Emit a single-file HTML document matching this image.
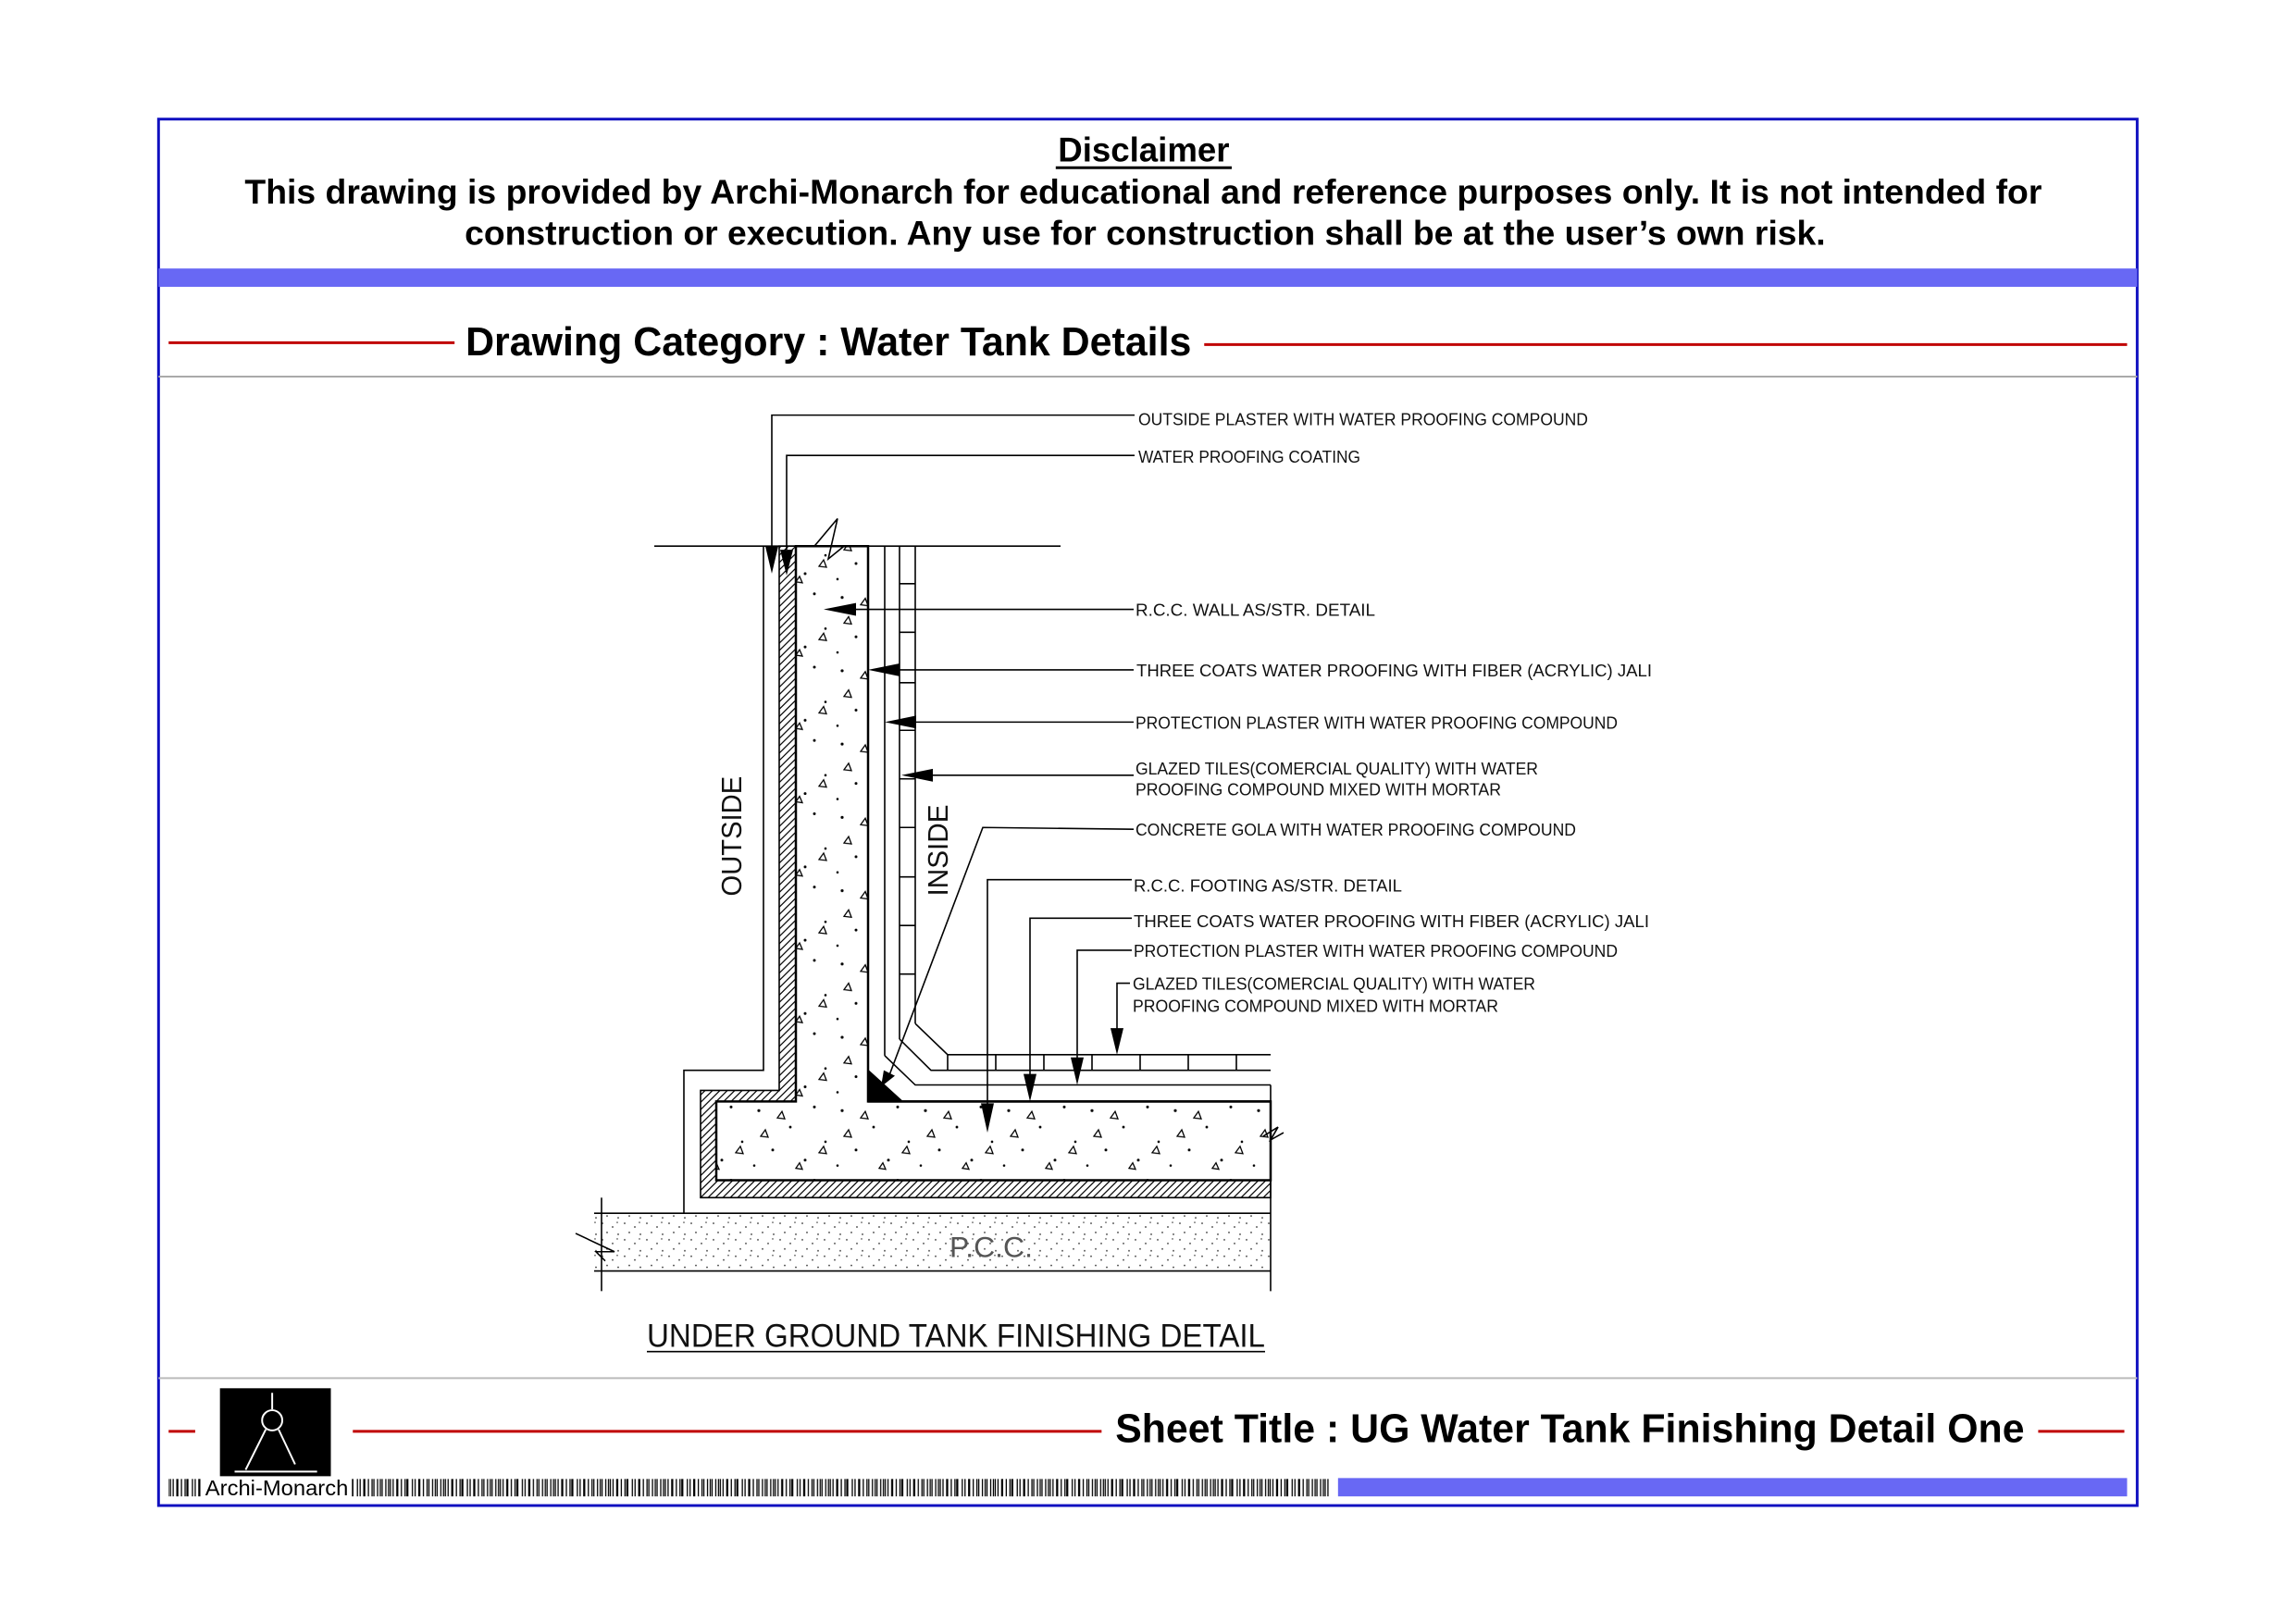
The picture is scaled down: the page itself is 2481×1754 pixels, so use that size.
<!DOCTYPE html>
<html><head><meta charset="utf-8"><style>html,body{margin:0;padding:0;background:#fff}svg{display:block}</style></head>
<body>
<svg width="2481" height="1754" viewBox="0 0 2481 1754" xmlns="http://www.w3.org/2000/svg">
<defs>
<pattern id="conc" width="90" height="80" patternUnits="userSpaceOnUse">
<circle cx="10" cy="12" r="1.6" fill="#000"/><circle cx="44" cy="30" r="1.4" fill="#000"/><circle cx="70" cy="8" r="1.5" fill="#000"/><circle cx="25" cy="55" r="1.5" fill="#000"/><circle cx="60" cy="66" r="1.5" fill="#000"/><circle cx="82" cy="46" r="1.3" fill="#000"/><circle cx="5" cy="72" r="1.3" fill="#000"/>
<path d="M30 20 l5 -7 l3 8 z M75 58 l5 -7 l3 8 z M12 40 l5 -7 l3 8 z M50 75 l4 -6 l3 7 z" fill="none" stroke="#000" stroke-width="1.3"/>
</pattern>
<pattern id="pcc" width="24" height="18" patternUnits="userSpaceOnUse">
<circle cx="3" cy="3" r="0.9" fill="#333"/><circle cx="14" cy="7" r="0.9" fill="#333"/><circle cx="8" cy="13" r="0.9" fill="#333"/><circle cx="20" cy="15" r="0.9" fill="#333"/><circle cx="19" cy="2" r="0.8" fill="#333"/>
</pattern>
<pattern id="hatch" width="8" height="8" patternUnits="userSpaceOnUse">
<path d="M0 8 L8 0 M-2 2 L2 -2 M6 10 L10 6" stroke="#000" stroke-width="1.2"/>
</pattern>
<pattern id="bars" width="60" height="20" patternUnits="userSpaceOnUse">
<path d="M1 0v20M4 0v20M6 0v20M9 0v20M13 0v20M14 0v20M18 0v20M22 0v20M24 0v20M25 0v20M30 0v20M33 0v20M37 0v20M38 0v20M42 0v20M46 0v20M48 0v20M52 0v20M55 0v20M57 0v20" stroke="#000" stroke-width="1.3"/>
</pattern>
</defs>
<g transform="scale(0.9903)">
<rect x="173" y="130" width="2159" height="1513" fill="none" stroke="#1010c0" stroke-width="3"/>
<rect x="173" y="293" width="2159" height="20" fill="#6868f4"/>
<line x1="173" y1="411" x2="2332" y2="411" stroke="#aaa" stroke-width="2"/>
<line x1="173" y1="1504" x2="2332" y2="1504" stroke="#bbb" stroke-width="2"/>

<g font-family="Liberation Sans, sans-serif" font-weight="bold" fill="#000">
<text x="1248" y="176" font-size="37" text-anchor="middle">Disclaimer</text>
<line x1="1152" y1="183" x2="1344" y2="183" stroke="#000" stroke-width="3"/>
<text x="267" y="222" font-size="37" textLength="1961" lengthAdjust="spacingAndGlyphs">This drawing is provided by Archi-Monarch for educational and reference purposes only. It is not intended for</text>
<text x="507" y="267" font-size="37" textLength="1485" lengthAdjust="spacingAndGlyphs">construction or execution. Any use for construction shall be at the user’s own risk.</text>
<text x="508" y="388" font-size="44" textLength="792" lengthAdjust="spacingAndGlyphs">Drawing Category : Water Tank Details</text>
<text x="1217" y="1574" font-size="44" textLength="992" lengthAdjust="spacingAndGlyphs">Sheet Title : UG Water Tank Finishing Detail One</text>
</g>
<line x1="184" y1="374" x2="496" y2="374" stroke="#c00000" stroke-width="3"/>
<line x1="1314" y1="376" x2="2321" y2="376" stroke="#c00000" stroke-width="3"/>
<line x1="184" y1="1562" x2="213" y2="1562" stroke="#c00000" stroke-width="3"/>
<line x1="385" y1="1562" x2="1202" y2="1562" stroke="#c00000" stroke-width="3"/>
<line x1="2224" y1="1562" x2="2318" y2="1562" stroke="#c00000" stroke-width="3"/>

<rect x="240" y="1515" width="121" height="96" fill="#000"/>
<g stroke="#fff" stroke-width="2" fill="none">
<line x1="297" y1="1520" x2="297" y2="1538"/><circle cx="297" cy="1550" r="11"/>
<line x1="290" y1="1560" x2="268" y2="1604"/><line x1="304" y1="1560" x2="322" y2="1598"/>
<line x1="256" y1="1606" x2="346" y2="1606"/>
</g>
<rect x="184" y="1614" width="36" height="19" fill="url(#bars)"/>
<text x="224" y="1632" font-family="Liberation Sans, sans-serif" font-size="23" textLength="156" lengthAdjust="spacingAndGlyphs">Archi-Monarch</text>
<rect x="384" y="1614" width="1068" height="19" fill="url(#bars)"/>
<rect x="1460" y="1613" width="861" height="20" fill="#6868f4"/>

<g transform="scale(1.00979,1)">
<g stroke="#000" fill="none" stroke-width="1.6">
<rect x="642" y="1324" width="731" height="63" fill="url(#pcc)" stroke="none"/>
<line x1="642" y1="1324" x2="1373" y2="1324"/>
<line x1="642" y1="1387" x2="1373" y2="1387"/>
<line x1="650" y1="1307" x2="650" y2="1409"/>
<line x1="1373" y1="1184" x2="1373" y2="1409"/>
<path d="M622 1346 L664 1366 L644 1366 L654 1376"/>
<path d="M842 596 L860 596 L860 1202 L774 1202 L774 1288 L1373 1288 L1373 1307 L757 1307 L757 1190 L842 1190 Z" fill="url(#hatch)"/>
<path d="M860 596 L938 596 L938 1202 L1373 1202 L1373 1288 L774 1288 L774 1202 L860 1202 Z" fill="url(#conc)" stroke-width="2.5"/>
<path d="M825 596 L825 1168 L739 1168 L739 1324"/>
<line x1="707" y1="596" x2="1146" y2="596"/>
<path d="M880 596 L905 566 L895 610 L912 596"/>
<line x1="956" y1="596" x2="956" y2="1152"/>
<path d="M956 1152 L989 1184 L1373 1184"/>
<line x1="972" y1="596" x2="972" y2="1134"/>
<path d="M972 1134 L1006 1168 L1373 1168"/>
<line x1="989" y1="596" x2="989" y2="1117"/>
<path d="M989 1117 L1024 1151 L1373 1151"/>
<line x1="1024" y1="1151" x2="1024" y2="1168"/>
<line x1="938" y1="1202" x2="1373" y2="1202" stroke-width="2.5"/>
<path d="M972 637h17M972 690h17M972 745h17M972 797h17M972 850h17M972 903h17M972 957h17M972 1010h17M972 1063h17"/>
<path d="M1076 1151v17M1128 1151v17M1180 1151v17M1232 1151v17M1284 1151v17M1336 1151v17"/>
<path d="M1365 1240 l16 -10 l-8 14 l14 -8"/>
<path d="M938 1168 L938 1202 L975 1202 Z" fill="#000"/>

<path d="M1226 453 L834 453 L834 600"/>
<path d="M1226 497 L850 497 L850 600"/>
<path d="M1225 665 L920 665"/>
<path d="M1225 731 L968 731"/>
<path d="M1225 788 L986 788"/>
<path d="M1225 846 L1004 846"/>
<path d="M1225 905 L1062 903 L960 1176"/>
<path d="M1223 960 L1067 960 L1067 1210"/>
<path d="M1223 1002 L1113 1002 L1113 1178"/>
<path d="M1223 1037 L1164 1037 L1164 1160"/>
<path d="M1221 1073 L1207 1073 L1207 1128"/>
</g>
<g fill="#000">
<path d="M827 596 L841 596 L834 626 Z"/>
<path d="M843 600 L857 600 L850 628 Z"/>
<path d="M890 665 L925 658 L925 672 Z"/>
<path d="M938 731 L972 724 L972 738 Z"/>
<path d="M956 788 L990 781 L990 795 Z"/>
<path d="M974 846 L1008 839 L1008 853 Z"/>
<path d="M952 1186 L955 1168 L967 1174 Z"/>
<path d="M1060 1204 L1074 1204 L1067 1236 Z"/>
<path d="M1106 1172 L1120 1172 L1113 1202 Z"/>
<path d="M1157 1154 L1171 1154 L1164 1184 Z"/>
<path d="M1200 1122 L1214 1122 L1207 1151 Z"/>
</g>

<g font-family="Liberation Sans, sans-serif" font-size="19" fill="#111">
<text x="1230" y="464" textLength="486" lengthAdjust="spacingAndGlyphs">OUTSIDE  PLASTER  WITH  WATER  PROOFING  COMPOUND</text>
<text x="1230" y="505" textLength="240" lengthAdjust="spacingAndGlyphs">WATER  PROOFING  COATING</text>
<text x="1227" y="672" textLength="259" lengthAdjust="spacingAndGlyphs">R.C.C.  WALL  AS/STR.  DETAIL</text>
<text x="1228" y="738" textLength="557" lengthAdjust="spacingAndGlyphs">THREE  COATS  WATER  PROOFING   WITH  FIBER  (ACRYLIC)  JALI</text>
<text x="1227" y="795" textLength="521" lengthAdjust="spacingAndGlyphs">PROTECTION  PLASTER  WITH  WATER  PROOFING  COMPOUND</text>
<text x="1227" y="845" textLength="435" lengthAdjust="spacingAndGlyphs">GLAZED  TILES(COMERCIAL  QUALITY)  WITH  WATER</text>
<text x="1227" y="868" textLength="395" lengthAdjust="spacingAndGlyphs">PROOFING  COMPOUND  MIXED  WITH  MORTAR</text>
<text x="1227" y="912" textLength="476" lengthAdjust="spacingAndGlyphs">CONCRETE  GOLA  WITH  WATER  PROOFING  COMPOUND</text>
<text x="1225" y="973" textLength="290" lengthAdjust="spacingAndGlyphs">R.C.C.  FOOTING  AS/STR.  DETAIL</text>
<text x="1225" y="1012" textLength="557" lengthAdjust="spacingAndGlyphs">THREE  COATS  WATER  PROOFING   WITH  FIBER  (ACRYLIC)  JALI</text>
<text x="1225" y="1044" textLength="523" lengthAdjust="spacingAndGlyphs">PROTECTION  PLASTER  WITH  WATER  PROOFING  COMPOUND</text>
<text x="1224" y="1080" textLength="435" lengthAdjust="spacingAndGlyphs">GLAZED  TILES(COMERCIAL  QUALITY)  WITH  WATER</text>
<text x="1224" y="1104" textLength="395" lengthAdjust="spacingAndGlyphs">PROOFING  COMPOUND  MIXED  WITH  MORTAR</text>
<text transform="translate(801,978) rotate(-90)" font-size="31" textLength="131" lengthAdjust="spacingAndGlyphs">OUTSIDE</text>
<text transform="translate(1024,978) rotate(-90)" font-size="31" textLength="100" lengthAdjust="spacingAndGlyphs">INSIDE</text>
<text x="1026" y="1372" font-size="32" fill="#555" textLength="90" lengthAdjust="spacingAndGlyphs">P.C.C.</text>
<text x="699" y="1470" font-size="36" textLength="668" lengthAdjust="spacingAndGlyphs">UNDER  GROUND  TANK  FINISHING  DETAIL</text>
</g>
<line x1="699" y1="1475" x2="1367" y2="1475" stroke="#000" stroke-width="1.6"/>
</g>
</g>
</svg>
</body></html>
